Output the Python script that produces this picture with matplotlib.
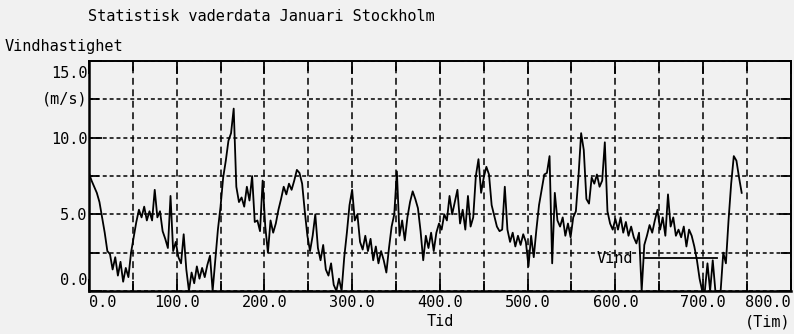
import numpy as np
import matplotlib.pyplot as plt
from matplotlib.transforms import ScaledTranslation

# Vindhastighet (m/s) i Stockholm, januari, ett varde var tredje timme
vind = [
    7.7, 7.2, 6.8, 6.4, 5.8, 4.8, 3.8, 2.6,
    2.4, 1.4, 2.2, 1.0, 1.9, 0.6, 1.5, 0.9,
    2.5, 3.5, 4.5, 5.3, 4.8, 5.5, 4.6, 5.2,
    4.6, 6.6, 4.8, 5.2, 3.9, 3.4, 2.8, 6.2,
    2.6, 3.2, 2.2, 1.8, 3.7, 1.4, 0.0, 1.2,
    0.5, 1.6, 0.8, 1.5, 0.9, 1.7, 2.3, 0.0,
    2.0, 4.0, 5.5, 7.4, 8.5, 9.8, 10.3, 11.9,
    6.8, 5.8, 6.1, 5.5, 6.8, 5.9, 7.5, 4.5,
    4.6, 3.9, 7.2, 4.2, 2.5, 4.6, 3.8, 4.4,
    5.3, 6.0, 6.8, 6.3, 7.0, 6.6, 7.2, 7.9,
    7.7, 7.0, 5.2, 3.6, 2.6, 3.6, 5.0, 2.8,
    2.0, 3.0, 1.4, 1.0, 1.8, 0.4, 0.0, 0.8,
    0.0, 2.2, 3.8, 5.6, 6.6, 4.6, 5.0, 3.2,
    2.7, 3.6, 2.6, 3.4, 2.0, 2.9, 1.8, 2.6,
    2.0, 1.2, 2.8, 4.2, 5.0, 7.8, 3.6, 4.6,
    3.3, 4.8, 5.8, 6.5, 6.0, 5.4, 3.9, 2.0,
    3.6, 2.8, 3.8, 2.6, 3.8, 4.4, 4.0, 5.0,
    4.6, 6.2, 5.0, 5.8, 6.6, 4.4, 5.3, 4.0,
    6.2, 4.2, 4.8, 7.5, 8.6, 6.4, 7.4, 8.1,
    7.6, 5.6, 4.9, 4.2, 3.9, 4.0, 6.8, 4.0,
    3.2, 3.8, 2.9, 3.6, 3.0, 3.7, 3.2, 1.6,
    3.6, 2.2, 4.0, 5.6, 6.6, 7.6, 7.7, 8.8,
    1.8, 6.4, 4.6, 4.2, 4.8, 3.6, 4.4, 3.5,
    4.8, 5.2, 7.5, 10.3, 9.2, 6.0, 5.7, 7.4,
    7.0, 7.6, 6.8, 7.2, 9.7, 5.2, 4.4, 4.0,
    4.7, 4.0, 4.8, 3.8, 4.5, 3.6, 4.2, 3.5,
    3.1, 3.8, 0.0, 3.0, 3.6, 4.3, 3.8, 4.6,
    5.3, 4.0, 4.8, 3.6, 6.3, 4.2, 4.8, 3.6,
    4.0, 3.5, 4.2, 2.9, 4.0, 3.6, 2.9, 2.0,
    0.8, 0.0, 0.0, 1.8, 0.0, 2.0, 0.0, 0.0,
    0.0, 2.5, 1.8, 4.6, 7.0, 8.8, 8.5, 7.4,
    6.4,
]
timmar = np.arange(0, 3 * len(vind), 3)

x_ticks = [0, 100, 200, 300, 400, 500, 600, 700, 800]
y_ticks = [0, 5, 10, 15]

bg = '#f1f1f1'
font = 'DejaVu Sans Mono'
plt.rcParams['font.family'] = font
plt.rcParams['font.size'] = 11

fig = plt.figure(figsize=(7.94, 3.34), dpi=100, facecolor=bg)
ax = fig.add_axes([0.112, 0.129, 0.884, 0.688])
ax.set_facecolor(bg)

ax.plot(timmar, vind, color='black', lw=1.3, label='Vind')

ax.set_xlim(0, 800)
ax.set_ylim(0, 15)
ax.set_xticks(x_ticks)
ax.set_xticklabels([f'{t:.1f}' for t in x_ticks])
ax.set_xticks(np.arange(50, 800, 100), minor=True)
ax.set_yticks(y_ticks)
ax.set_yticklabels([f'{t:.1f}' for t in y_ticks])
ax.set_yticks([2.5, 7.5, 12.5], minor=True)

# streckat rutnat
ax.xaxis.grid(True, which='both', color='black', lw=1.1, linestyle=(0, (4.5, 3.0)))
ax.yaxis.grid(True, which='both', color='black', lw=1.1, linestyle=(0, (2.6, 1.9)))

ax.tick_params(which='major', direction='in', length=9, width=1.3,
               top=True, right=True, pad=3, labelsize=11)
ax.tick_params(which='minor', direction='in', length=7, width=1.3,
               top=True, right=True)
ax.tick_params(axis='y', pad=1)

for side in ['left', 'bottom']:
    ax.spines[side].set_linewidth(1.8)
for side in ['top', 'right']:
    ax.spines[side].set_linewidth(1.4)

# kantetiketterna flyttas in mot diagrammet
xl = ax.get_xticklabels()
xl[0].set_ha('left')
xl[-1].set_ha('right')
yl = ax.get_yticklabels()
yl[0].set_transform(yl[0].get_transform() + ScaledTranslation(0, 0.12, fig.dpi_scale_trans))
yl[-1].set_transform(yl[-1].get_transform() + ScaledTranslation(0, -0.11, fig.dpi_scale_trans))

ax.text(-0.002, 12.5, '(m/s)', transform=ax.get_yaxis_transform(),
        ha='right', va='center', fontsize=11)
ax.text(400, -0.135, 'Tid', transform=ax.get_xaxis_transform(),
        ha='center', va='center', fontsize=11)
ax.text(1.0, -0.135, '(Tim)', transform=ax.transAxes, ha='right', va='center', fontsize=11)

fig.text(0.111, 0.95, 'Statistisk vaderdata Januari Stockholm', ha='left', va='center', fontsize=11)
fig.text(0.006, 0.86, 'Vindhastighet', ha='left', va='center', fontsize=11)

ax.legend(loc='center right', bbox_to_anchor=(0.895, 0.139), frameon=False,
          markerfirst=False, handlelength=4.7, handletextpad=0.8,
          borderpad=0, borderaxespad=0, fontsize=11)

fig.savefig('out.png', dpi=100, facecolor=bg)
